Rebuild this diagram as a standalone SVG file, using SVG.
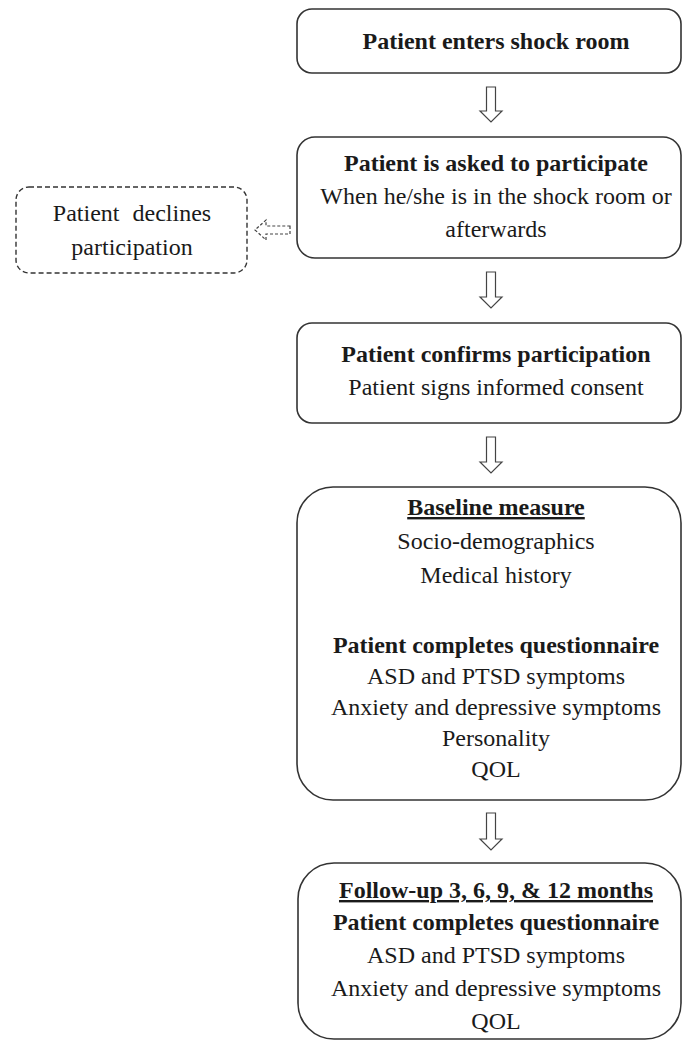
<svg xmlns="http://www.w3.org/2000/svg" width="683" height="1043" viewBox="0 0 683 1043">
<style>
.box{fill:#fff;stroke:#333;stroke-width:1.6}
.dash{fill:#fff;stroke:#333;stroke-width:1.4;stroke-dasharray:5 3}
.arr{fill:#fff;stroke:#444;stroke-width:1.2;stroke-linejoin:miter}
.darr{fill:#fff;stroke:#444;stroke-width:1.2;stroke-dasharray:3 2}
text{font-family:"Liberation Serif","Times New Roman",serif;font-size:24px;fill:#1a1a1a;text-anchor:middle}
.b{font-weight:bold}
.u{text-decoration:underline}
</style>
<rect width="683" height="1043" fill="#fff"/>
<g id="connectors">
<path class="arr" d="M486.5,87 H495.5 V111 H502 L491,122 L480,111 H486.5 Z"/>
<path class="arr" d="M486.5,272 H495.5 V297 H502 L491,308 L480,297 H486.5 Z"/>
<path class="arr" d="M486.5,437 H495.5 V462 H502 L491,473 L480,462 H486.5 Z"/>
<path class="arr" d="M486.5,813 H495.5 V839 H502 L491,850 L480,839 H486.5 Z"/>
<path class="darr" d="M290,226 V234 H266 V240 L255,230 L266,220 V226 Z"/>
</g>
<g id="n1">
<rect class="box" x="297" y="9" width="384" height="64" rx="15"/>
<text class="b" x="496" y="49">Patient enters shock room</text>
</g>
<g id="n2">
<rect class="box" x="297" y="137" width="384" height="121" rx="18"/>
<text class="b" x="496" y="171">Patient is asked to participate</text>
<text x="496" y="204">When he/she is in the shock room or</text>
<text x="496" y="237">afterwards</text>
</g>
<g id="n_decline">
<rect class="dash" x="16" y="187" width="231" height="86" rx="13"/>
<text x="132" y="221" word-spacing="7">Patient declines</text>
<text x="132" y="255">participation</text>
</g>
<g id="n3">
<rect class="box" x="297" y="323" width="384" height="100" rx="15"/>
<text class="b" x="496" y="362">Patient confirms participation</text>
<text x="496" y="395">Patient signs informed consent</text>
</g>
<g id="n4">
<rect class="box" x="297" y="487" width="384" height="313" rx="36"/>
<text class="b u" x="496" y="515">Baseline measure</text>
<text x="496" y="549">Socio-demographics</text>
<text x="496" y="583">Medical history</text>
<text class="b" x="496" y="653">Patient completes questionnaire</text>
<text x="496" y="684">ASD and PTSD symptoms</text>
<text x="496" y="715">Anxiety and depressive symptoms</text>
<text x="496" y="746">Personality</text>
<text x="496" y="777">QOL</text>
</g>
<g id="n5">
<rect class="box" x="298" y="863" width="383" height="176" rx="36"/>
<text class="b u" x="496" y="898">Follow-up 3, 6, 9, &amp; 12 months</text>
<text class="b" x="496" y="930">Patient completes questionnaire</text>
<text x="496" y="963">ASD and PTSD symptoms</text>
<text x="496" y="996">Anxiety and depressive symptoms</text>
<text x="496" y="1029">QOL</text>
</g>
</svg>
